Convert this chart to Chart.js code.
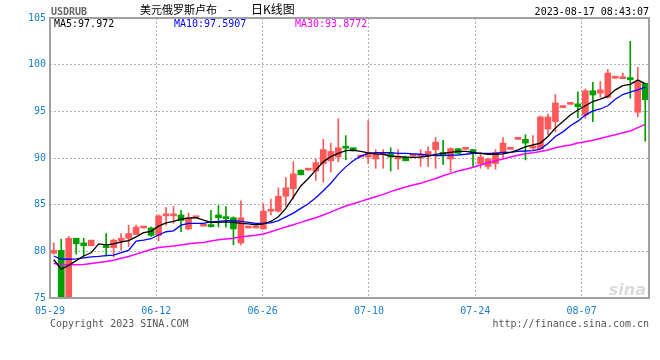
<!DOCTYPE html>
<html>
<head>
<meta charset="utf-8">
<script src="https://cdn.jsdelivr.net/npm/chart.js@4.4.0/dist/chart.umd.min.js"></script>
<style>
  html, body { margin: 0; padding: 0; background: #fff; }
  canvas { display: block; }
</style>
</head>
<body>
<canvas id="kline" width="660" height="360"></canvas>
<script>
// daily candles, 05-29 .. 08-15 (one slot per day, null = no quote)
var opens  = [79.8, 80.1, 74.6, 81.4, 80.9, 80.6, null, 80.6, 80.4, 81.1,
              81.4, 81.8, 82.5, 82.5, 81.7, 83.8, 83.8, 83.9, 82.4, 83.6,
              82.7, 82.85, 83.9, 83.7, 83.6, 80.9, 82.5, 82.5, 82.4, 84.3,
              84.3, 85.9, 86.7, 88.7, 88.7, 88.6, 89.4, 89.7, 90.1, 91.15,
              91.1, 90.1, 90.1, 89.9, 90.4, 90.5, 89.9, 90.1, 90.2, 90.15,
              90.2, 90.9, 90.6, 89.9, 91.0, 90.93, 90.9, 89.4, 89.1, 89.4,
              90.6, 90.93, 92.0, 92.0, 91.05, 91.0, 93.1, 93.9, 95.4, 95.75,
              95.8, 94.6, 97.2, 96.95, 96.5, 98.55, 98.5, 98.6, 94.9, 98.0];
var highs  = [80.9, 81.3, 81.6, 81.4, 81.4, 81.2, null, 81.9, 81.3, 81.9,
              82.8, 82.8, 82.5, 82.6, 83.9, 84.7, 84.8, 84.4, 84.1, 83.6,
              82.7, 84.4, 84.9, 84.8, 83.7, 85.4, 82.5, 82.5, 85.1, 85.6,
              86.8, 87.9, 89.6, 88.7, 88.7, 89.9, 92.0, 91.6, 94.2, 92.4,
              91.1, 90.1, 94.0, 90.9, 90.9, 91.1, 90.9, 90.2, 90.2, 90.9,
              91.2, 92.2, 91.9, 91.1, 91.0, 90.93, 90.9, 90.6, 90.0, 90.9,
              92.2, 90.93, 92.0, 92.5, 92.4, 94.5, 94.7, 96.8, 95.4, 95.75,
              97.1, 97.4, 98.1, 98.2, 99.5, 98.55, 99.1, 102.5, 99.7, 98.0];
var lows   = [79.7, 74.3, 74.4, 79.7, 79.5, 80.6, null, 79.5, 79.4, 80.1,
              80.5, 81.8, 82.5, 81.6, 81.1, 82.8, 83.0, 82.1, 82.3, 83.6,
              82.7, 82.6, 82.6, 82.6, 80.7, 80.7, 82.5, 82.5, 82.4, 83.9,
              84.2, 84.8, 85.6, 88.2, 88.7, 87.6, 87.4, 88.5, 89.6, 89.8,
              90.75, 90.1, 89.4, 88.9, 88.9, 88.6, 88.8, 89.7, 90.2, 89.1,
              89.1, 88.9, 89.3, 88.5, 90.5, 90.93, 89.1, 88.9, 88.8, 88.8,
              89.9, 90.93, 92.0, 89.8, 90.9, 91.0, 92.5, 92.8, 95.4, 95.75,
              94.3, 94.25, 93.9, 96.5, 96.4, 98.55, 98.5, 96.4, 94.4, 91.8];
var closes = [80.1, 74.5, 81.4, 80.8, 80.6, 81.2, null, 80.4, 81.2, 81.4,
              81.9, 82.6, 82.5, 81.7, 83.8, 83.9, 83.9, 83.3, 83.6, 83.6,
              82.7, 82.65, 83.6, 83.5, 82.4, 83.6, 82.5, 82.5, 84.3, 84.4,
              85.9, 86.8, 88.3, 88.2, 88.7, 89.5, 90.9, 90.7, 91.1, 91.05,
              90.75, 90.1, 90.6, 90.5, 90.5, 90.1, 90.2, 89.7, 90.2, 90.3,
              90.7, 91.7, 90.35, 91.0, 90.5, 90.93, 90.5, 90.1, 89.9, 90.6,
              91.6, 90.93, 92.0, 91.6, 91.3, 94.4, 94.4, 95.9, 95.4, 95.75,
              95.5, 97.2, 96.75, 97.3, 99.1, 98.55, 98.55, 98.4, 98.1, 96.25];

var ma5  = [79.1, 78.1, 78.5, 79.0, 79.5, 79.85, 80.8, 80.7, 80.8, 81.0,
            81.15, 81.55, 82.0, 82.15, 82.7, 83.05, 83.2, 83.45, 83.55, 83.6,
            83.35, 83.1, 83.1, 83.15, 83.1, 83.0, 82.95, 82.85, 82.95, 83.2,
            83.7, 84.6, 85.8, 87.0, 87.8, 88.7, 89.6, 90.15, 90.5, 90.8,
            90.85, 90.7, 90.55, 90.45, 90.4, 90.2, 90.15, 90.1, 90.07, 90.1,
            90.2, 90.4, 90.5, 90.6, 90.7, 90.7, 90.6, 90.5, 90.4, 90.4,
            90.45, 90.6, 90.86, 91.2, 91.4, 91.6, 92.3, 93.2, 93.9, 94.6,
            95.15, 95.6, 96.05, 96.3, 96.6, 97.3, 97.75, 97.9, 98.35, 97.97];
var ma10 = [79.5, 79.15, 79.15, 79.2, 79.3, 79.4, 79.45, 79.55, 79.6, 79.85,
            80.1, 81.1, 81.2, 81.35, 81.75, 82.1, 82.2, 82.8, 83.0, 83.0,
            83.0, 83.18, 83.2, 83.29, 83.29, 83.2, 83.1, 83.0, 83.0, 83.05,
            83.3, 83.7, 84.1, 84.6, 85.1, 85.75, 86.5, 87.3, 88.25, 89.05,
            89.7, 90.2, 90.5, 90.57, 90.57, 90.57, 90.5, 90.5, 90.45, 90.4,
            90.3, 90.25, 90.25, 90.3, 90.32, 90.4, 90.5, 90.5, 90.5, 90.5,
            90.6, 90.6, 90.7, 90.75, 90.8, 90.95, 91.55, 92.3, 92.8, 93.45,
            93.95, 94.6, 95.05, 95.25, 95.6, 96.3, 96.8, 97.05, 97.3, 97.59];
var ma30 = [78.7, 78.6, 78.55, 78.55, 78.6, 78.7, 78.8, 78.9, 79.05, 79.25,
            79.45, 79.7, 79.95, 80.2, 80.4, 80.5, 80.57, 80.68, 80.8, 80.88,
            80.95, 81.1, 81.25, 81.32, 81.4, 81.55, 81.65, 81.72, 81.85, 82.1,
            82.35, 82.6, 82.85, 83.1, 83.35, 83.6, 83.9, 84.2, 84.55, 84.85,
            85.1, 85.35, 85.6, 85.85, 86.1, 86.4, 86.65, 86.9, 87.1, 87.3,
            87.55, 87.8, 88.1, 88.35, 88.6, 88.8, 89.0, 89.25, 89.5, 89.7,
            89.9, 90.1, 90.3, 90.45, 90.55, 90.7, 90.85, 91.1, 91.25, 91.4,
            91.6, 91.75, 91.9, 92.1, 92.3, 92.5, 92.7, 92.9, 93.25, 93.6];

var maLabels = ['MA5:97.972', 'MA10:97.5907', 'MA30:93.8772'];
var tickLabels = ['05-29', '06-12', '06-26', '07-10', '07-24', '08-07'];
var tickPos = [0, 14.2, 28.4, 42.6, 56.8, 71.0];

var RED = '#ff5858';
var GREEN = '#009f00';
var BLUE_TXT = '#1a7fd0';
var MONO = "'DejaVu Sans Mono', monospace";

var idx = [];
for (var i = 0; i < opens.length; i++) {
  if (opens[i] !== null) idx.push(i);
}
var bodies = idx.map(function (i) { return { x: i + 0.5, y: [opens[i], closes[i]] }; });
var wicks = idx.map(function (i) { return { x: i + 0.5, y: [lows[i], highs[i]] }; });
var candleColors = idx.map(function (i) { return closes[i] >= opens[i] ? RED : GREEN; });

function line(arr) {
  return arr.map(function (v, i) { return { x: i + 0.5, y: v }; });
}

var frame = {
  id: 'frame',
  beforeDatasetsDraw: function (chart) {
    var ctx = chart.ctx, a = chart.chartArea;
    ctx.save();
    ctx.fillStyle = '#dadada';
    ctx.font = "italic bold 16px 'DejaVu Sans', sans-serif";
    ctx.textAlign = 'right';
    ctx.textBaseline = 'alphabetic';
    ctx.fillText('sina', a.right - 3, a.bottom - 3);
    ctx.restore();
  },
  afterDatasetsDraw: function (chart) {
    var ctx = chart.ctx, a = chart.chartArea;
    ctx.save();
    ctx.strokeStyle = '#a0a0a0';
    ctx.lineWidth = 2;
    ctx.strokeRect(a.left, a.top, a.right - a.left, a.bottom - a.top);
    ctx.restore();
  },
  afterDraw: function (chart) {
    var ctx = chart.ctx;
    ctx.save();
    ctx.textBaseline = 'alphabetic';
    ctx.textAlign = 'left';

    ctx.font = 'bold 10px ' + MONO;
    ctx.fillStyle = '#666';
    ctx.fillText('USDRUB', 51, 15);

    ctx.fillStyle = '#000';
    ctx.font = "11px 'Noto Sans CJK SC', sans-serif";
    ctx.fillText('美元俄罗斯卢布', 140, 14);
    ctx.fillText('-', 228, 14);
    ctx.font = "12px 'Noto Sans CJK SC', sans-serif";
    ctx.fillText('日K线图', 251, 14);

    ctx.font = '10px ' + MONO;
    ctx.textAlign = 'right';
    ctx.fillText('2023-08-17 08:43:07', 649, 15);

    ctx.textAlign = 'left';
    ctx.fillStyle = '#000';
    ctx.fillText(maLabels[0], 54, 27);
    ctx.fillStyle = '#0000ff';
    ctx.fillText(maLabels[1], 174, 27);
    ctx.fillStyle = '#ff00ff';
    ctx.fillText(maLabels[2], 295, 27);

    ctx.fillStyle = '#555';
    ctx.fillText('Copyright 2023 SINA.COM', 50, 327);
    ctx.textAlign = 'right';
    ctx.fillText('http://finance.sina.com.cn', 649, 327);
    ctx.restore();
  }
};

new Chart(document.getElementById('kline'), {
  type: 'bar',
  data: {
    datasets: [
      { type: 'line', data: line(ma5), borderColor: '#000000', borderWidth: 1.3,
        pointRadius: 0, tension: 0, order: 0 },
      { type: 'line', data: line(ma10), borderColor: '#0000ff', borderWidth: 1.3,
        pointRadius: 0, tension: 0, order: 0 },
      { type: 'line', data: line(ma30), borderColor: '#ff00ff', borderWidth: 1.5,
        pointRadius: 0, tension: 0, order: 0 },
      { type: 'bar', data: bodies, backgroundColor: candleColors, borderWidth: 0,
        barThickness: 6, minBarLength: 2, grouped: false, order: 1 },
      { type: 'bar', data: wicks, backgroundColor: candleColors, borderWidth: 0,
        barThickness: 1, grouped: false, order: 2 }
    ]
  },
  options: {
    responsive: false,
    animation: false,
    devicePixelRatio: 1,
    layout: { padding: { top: 18, right: 11, left: 0, bottom: 0 } },
    plugins: { legend: { display: false }, tooltip: { enabled: false } },
    scales: {
      x: {
        type: 'linear',
        min: 0,
        max: 80,
        offset: false,
        afterBuildTicks: function (scale) {
          scale.ticks = tickPos.map(function (v) { return { value: v }; });
        },
        afterFit: function (scale) { scale.height = 62; },
        grid: { offset: false, color: '#b0b0b0', drawTicks: false, lineWidth: 1 },
        border: { display: false, dash: [2, 2] },
        ticks: {
          autoSkip: false,
          maxRotation: 0,
          padding: 7,
          color: BLUE_TXT,
          font: { family: MONO, size: 10 },
          callback: function (value, index) { return tickLabels[index]; }
        }
      },
      y: {
        min: 75,
        max: 105,
        beginAtZero: false,
        afterFit: function (scale) { scale.width = 50; },
        grid: { color: '#b0b0b0', drawTicks: false, lineWidth: 1 },
        border: { display: false, dash: [2, 2] },
        ticks: {
          stepSize: 5,
          padding: 4,
          color: BLUE_TXT,
          font: { family: MONO, size: 10 }
        }
      }
    }
  },
  plugins: [frame]
});
</script>
</body>
</html>
